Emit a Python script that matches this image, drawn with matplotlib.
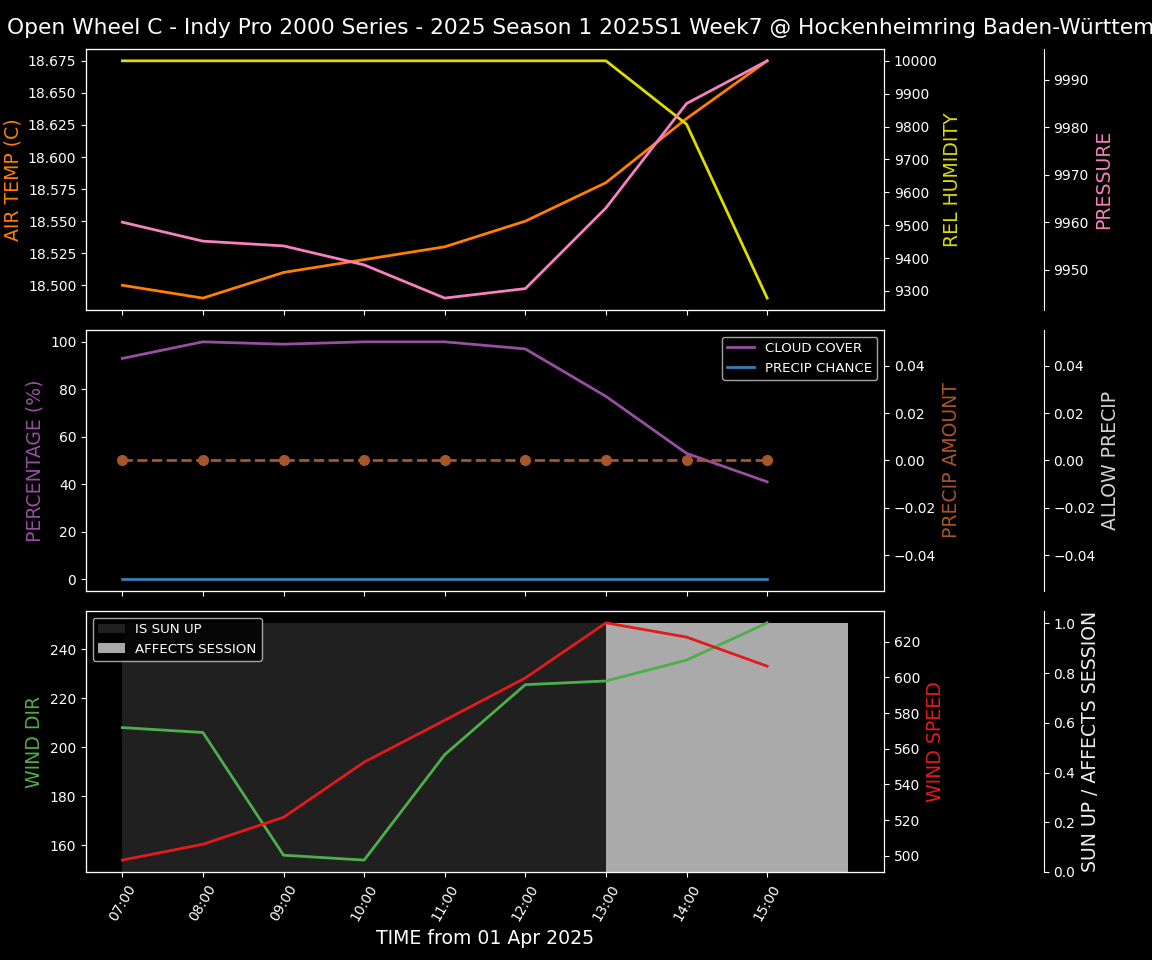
import matplotlib
matplotlib.use("Agg")
import matplotlib.pyplot as plt
import matplotlib.dates as mdates
import numpy as np
import pandas as pd

# hourly forecast, 01 Apr 2025
hours = ["07:00", "08:00", "09:00", "10:00", "11:00", "12:00", "13:00", "14:00", "15:00"]
air_temp = [18.50, 18.49, 18.51, 18.52, 18.53, 18.55, 18.58, 18.63, 18.675]
rel_humidity = [10000, 10000, 10000, 10000, 10000, 10000, 10000, 9807, 9278]
pressure = [9960, 9956, 9955, 9951, 9944, 9946, 9963, 9985, 9994]
cloud_cover = [93, 100, 99, 100, 100, 97, 77, 53, 41]
precip_chance = [0, 0, 0, 0, 0, 0, 0, 0, 0]
precip_amount = [0.0, 0.0, 0.0, 0.0, 0.0, 0.0, 0.0, 0.0, 0.0]
allow_precip = [0, 0, 0, 0, 0, 0, 0, 0, 0]
wind_dir = [208, 206, 156, 154, 197, 225.5, 227, 235.5, 250.7]
wind_speed = [497.6, 506.5, 521.6, 552.5, 576.0, 599.7, 630.6, 622.6, 606.3]
sun_up = [1, 1, 1, 1, 1, 1, 1, 1, 1]
affects_session = [0, 0, 0, 0, 0, 0, 1, 1, 1]
session_end = "16:00"

title = "Open Wheel C - Indy Pro 2000 Series - 2025 Season 1 2025S1 Week7 @ Hockenheimring Baden-Württemberg"

plt.style.use("dark_background")
plt.rcParams["font.family"] = ["DejaVu Sans"]
plt.rcParams["legend.fontsize"] = 9.6

times = pd.to_datetime(["2025-04-01 " + h for h in hours])
step_times = pd.to_datetime(["2025-04-01 " + h for h in hours + [session_end]])

fig, axes = plt.subplots(3, 1, figsize=(11.52, 9.6), dpi=100, sharex=True)
fig.subplots_adjust(left=0.0747, right=0.7674, top=0.949, bottom=0.0917, hspace=0.0766)

LW = 2
LABEL_FS = 13.6

# --- top: temperature / humidity / pressure
ax = axes[0]
ax.plot(times, air_temp, color="#ff7f00", lw=LW)
ax.set_ylabel("AIR TEMP (C)", color="#ff7f00", fontsize=LABEL_FS)

ax_h = ax.twinx()
ax_h.plot(times, rel_humidity, color="#dddd00", lw=LW)
ax_h.set_ylabel("REL HUMIDITY", color="#dddd00", fontsize=LABEL_FS)

ax_p = ax.twinx()
ax_p.spines["right"].set_position(("axes", 1.2))
ax_p.plot(times, pressure, color="#f781bf", lw=LW)
ax_p.set_ylabel("PRESSURE", color="#f781bf", fontsize=LABEL_FS)

# --- middle: clouds / precip
ax = axes[1]
ax.plot(times, cloud_cover, color="#984ea3", lw=LW, label="CLOUD COVER")
ax.plot(times, precip_chance, color="#377eb8", lw=LW, label="PRECIP CHANCE")
ax.set_ylabel("PERCENTAGE (%)", color="#984ea3", fontsize=LABEL_FS)
ax.legend(loc="upper right")

ax_a = ax.twinx()
ax_a.plot(times, precip_amount, color="#a65628", lw=LW, ls="--", marker="o", ms=7)
ax_a.set_ylabel("PRECIP AMOUNT", color="#a65628", fontsize=LABEL_FS)

ax_ap = ax.twinx()
ax_ap.spines["right"].set_position(("axes", 1.2))
ax_ap.plot(times, allow_precip, visible=False)
ax_ap.set_ylabel("ALLOW PRECIP", color="#d3d3d3", fontsize=LABEL_FS)

# --- bottom: wind / sun
ax = axes[2]
ax.plot(times, wind_dir, color="#4daf4a", lw=LW)
ax.set_ylabel("WIND DIR", color="#4daf4a", fontsize=LABEL_FS)

ax_w = ax.twinx()
ax_w.plot(times, wind_speed, color="#e41a1c", lw=LW)
ax_w.set_ylabel("WIND SPEED", color="#e41a1c", fontsize=LABEL_FS)

ax_s = ax.twinx()
ax_s.spines["right"].set_position(("axes", 1.2))
sun_ext = np.append(sun_up, sun_up[-1])
aff_ext = np.append(affects_session, affects_session[-1])
ax_s.fill_between(step_times, 0, sun_ext, step="post", color="#202020", lw=0, label="IS SUN UP")
ax_s.fill_between(step_times, 0, aff_ext, step="post", color="#aaaaaa", lw=0, label="AFFECTS SESSION")
ax_s.set_ylim(0, 1.05)
ax_s.set_ylabel("SUN UP / AFFECTS SESSION", color="#eeeeee", fontsize=LABEL_FS)
ax_s.legend(loc="upper left")

# keep the shading behind the wind lines
ax_s.set_zorder(0)
ax.set_zorder(1)
ax.patch.set_visible(False)
ax_w.set_zorder(2)

ax.set_xticks(times)
ax.xaxis.set_major_formatter(mdates.DateFormatter("%H:%M"))
plt.setp(ax.get_xticklabels(), rotation=60)
ax.set_xlabel("TIME from 01 Apr 2025", fontsize=LABEL_FS)

fig.text(0.006, 0.971, title, ha="left", va="center", fontsize=15.7)

fig.savefig("out.png", dpi=100)
